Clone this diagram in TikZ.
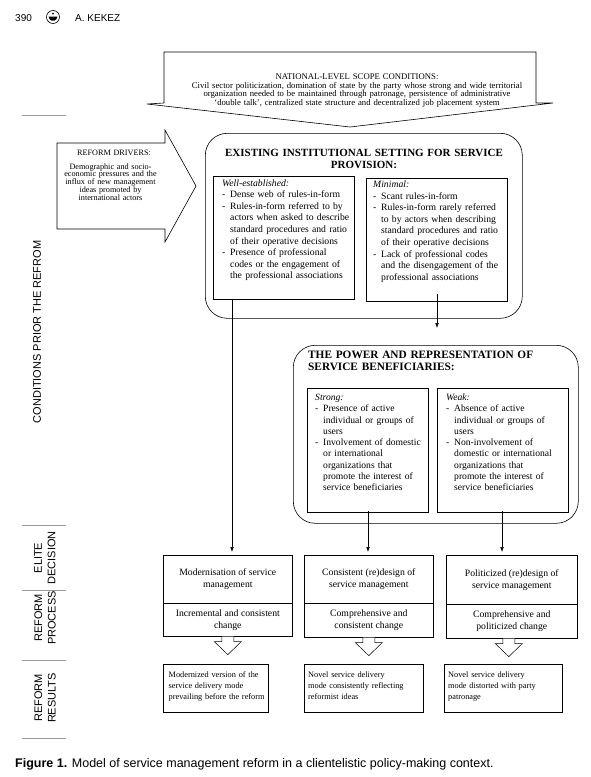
\documentclass[tikz,border=0pt]{standalone}
\usepackage{fontspec}
\setmainfont{Liberation Serif}
\setsansfont{Liberation Sans}
\usetikzlibrary{arrows.meta}
\newcommand{\fs}[2]{\fontsize{#1}{#2}\selectfont}
\newcommand{\dl}{\makebox[8pt][l]{-}}
\newcommand{\ind}{\hspace*{8pt}}
\begin{document}
\begin{tikzpicture}[x=1pt,y=-1pt,
  box/.style={draw, line width=0.6pt, anchor=north west, inner sep=0pt},
  cell/.style={box, align=center, font=\fs{9.7}{11.8}},
  rbox/.style={draw, line width=0.6pt, rounded corners=22pt, anchor=north west, inner sep=0pt},
  tl/.style={anchor=base west, inner sep=0pt, align=left, text width=170pt},
  tc/.style={anchor=base, inner sep=0pt, align=center},
  main/.style={font=\fs{9.7}{11.6}},
  arr/.style={-{Latex[length=5pt,width=3.6pt]}, line width=0.5pt},
  hollow/.style={draw, fill=white, line width=0.5pt},
  lab/.style={font=\sffamily\fs{11}{13.5}, rotate=90, align=center, inner sep=0pt},
  grule/.style={draw=black!40, line width=0.6pt},
  arrowshape/.style={draw, line width=0.6pt, fill=white},
  restext/.style={tl, font=\fs{8.3}{11}}
]
\fill[white] (0,0) rectangle (590,777);
\useasboundingbox (0,0) rectangle (590,777);

% header
\node[anchor=base west, inner sep=0pt, font=\sffamily\fs{10}{12}] (pg) at (15,21) {390};
\node[circle, draw, line width=0.6pt, minimum size=13pt, inner sep=0pt] (logo) at (53,17) {};
\fill (48.5,16.5) -- (57.5,16.5) -- (56.3,19.3) -- (54.5,20.6) -- (51.5,20.6) -- (49.7,19.3) -- cycle;
\fill (53,13.6) circle (1.1pt);
\node[anchor=base west, inner sep=0pt, font=\sffamily\fs{10}{12}] (auth) at (75,21) {A.\ KEKEZ};

% gray rules
\draw[grule] (22,115) -- (66,115);
\draw[grule] (22,525) -- (66,525);
\draw[grule] (22,590) -- (66,590);
\draw[grule] (22,660) -- (66,660);
\draw[grule] (22,738) -- (66,738);

% left labels
\node[lab] (lcond) at (37,332) {CONDITIONS PRIOR THE REFROM};
\node[lab] (lelite) at (45,558) {ELITE\\DECISION};
\node[lab] (lproc) at (45,618) {REFORM\\PROCESS};
\node[lab] (lres) at (45,698) {REFORM\\RESULTS};

% national scope arrow
\draw[arrowshape] (164,52) -- (536,52) -- (536,103) -- (553,103) -- (350,127) -- (147,104) -- (164,103) -- cycle;
\node[tc, text width=370pt, font=\fs{8.7}{8.8}] (natt) at (357,79) {NATIONAL-LEVEL SCOPE CONDITIONS:\hspace*{28pt}\\[0.3pt]
Civil sector politicization, domination of state by the party whose strong and wide territorial\\
organization needed to be maintained through patronage, persistence of administrative\\
`double talk', centralized state structure and decentralized job placement system};

% reform drivers arrow
\draw[arrowshape] (57,143) -- (165,143) -- (165,130) -- (196,186) -- (165,242) -- (165,229) -- (57,229) -- cycle;
\node[tc, text width=110pt, font=\fs{8.2}{7.9}] (reft) at (110.5,155.5) {\hspace*{7pt}REFORM DRIVERS:\\[5.6pt]
Demographic and socio-\\ economic pressures and the\\ influx of new management\\ ideas promoted by\\ international actors};

% existing institutional setting
\node[rbox, minimum width=317pt, minimum height=185pt] (exist) at (205,133) {};
\node[tc, text width=310pt, font=\bfseries\fs{11}{12}] (ext) at (364,156.5) {EXISTING INSTITUTIONAL SETTING FOR SERVICE\\PROVISION:};
\node[box, minimum width=141pt, minimum height=123pt] (exl) at (213,176) {};
\node[tl, main] (exlt) at (222,186) {\textit{Well-established:}\\
\dl Dense web of rules-in-form\\
\dl Rules-in-form referred to by\\
\ind actors when asked to describe\\
\ind standard procedures and ratio\\
\ind of their operative decisions\\
\dl Presence of professional\\
\ind codes or the engagement of\\
\ind the professional associations};
\node[box, minimum width=141pt, minimum height=123pt] (exr) at (366,178) {};
\node[tl, main] (exrt) at (373,187.5) {\textit{Minimal:}\\
\dl Scant rules-in-form\\
\dl Rules-in-form rarely referred\\
\ind to by actors when describing\\
\ind standard procedures and ratio\\
\ind of their operative decisions\\
\dl Lack of professional codes\\
\ind and the disengagement of the\\
\ind professional associations};

% power and representation
\node[rbox, minimum width=285pt, minimum height=178pt] (pw) at (293,345) {};
\node[tl, text width=270pt, font=\bfseries\fs{11.3}{12}] (pwt) at (308,358.5) {THE POWER AND REPRESENTATION OF\\SERVICE BENEFICIARIES:};
\node[box, minimum width=121pt, minimum height=124pt] (pwl) at (307,388) {};
\node[tl, font=\fs{9.6}{11.25}] (pwlt) at (315,400.5) {\textit{Strong:}\\
\dl Presence of active\\
\ind individual or groups of\\
\ind users\\
\dl Involvement of domestic\\
\ind or international\\
\ind organizations that\\
\ind promote the interest of\\
\ind service beneficiaries};
\node[box, minimum width=131pt, minimum height=124pt] (pwr) at (437,388) {};
\node[tl, font=\fs{9.6}{11.25}] (pwrt) at (446,400.5) {\textit{Weak:}\\
\dl Absence of active\\
\ind individual or groups of\\
\ind users\\
\dl Non-involvement of\\
\ind domestic or international\\
\ind organizations that\\
\ind promote the interest of\\
\ind service beneficiaries};

% elite decision / reform process cells
\node[cell, minimum width=129pt, minimum height=48pt] (m1) at (163,555) {Modernisation of service\\management};
\node[cell, minimum width=129pt, minimum height=33pt] (p1) at (163,603) {Incremental and consistent\\change};
\node[cell, minimum width=129pt, minimum height=48pt] (m2) at (304,555) {Consistent (re)design of\\service management};
\node[cell, minimum width=129pt, minimum height=34pt] (p2) at (304,603) {Comprehensive and\\consistent change};
\node[cell, minimum width=131pt, minimum height=49pt] (m3) at (446,555) {Politicized (re)design of\\service management};
\node[cell, minimum width=131pt, minimum height=34pt] (p3) at (446,604) {Comprehensive and\\politicized change};

% results
\node[box, minimum width=105pt, minimum height=48pt] (r1) at (163,664) {};
\node[restext] (r1t) at (168.5,677.5) {Modernized version of the\\service delivery mode\\prevailing before the reform};
\node[box, minimum width=119pt, minimum height=48pt] (r2) at (304,664) {};
\node[restext] (r2t) at (308,677.5) {Novel service delivery\\mode consistently reflecting\\reformist ideas};
\node[box, minimum width=118pt, minimum height=48pt] (r3) at (444,664) {};
\node[restext] (r3t) at (448,677.5) {Novel service delivery\\mode distorted with party\\patronage};

% connectors
\coordinate (c1) at ([xshift=19pt]exl.south west);
\draw[arr, shorten >=3pt] (c1) -- (c1 |- m1.north);
\coordinate (c2) at ([xshift=71pt,yshift=8pt]exr.south west);
\draw[arr, shorten >=17pt] (c2) -- (c2 |- pw.north);
\coordinate (c3) at ([xshift=61pt,yshift=2pt]pwl.south west);
\draw[arr, shorten >=3pt] (c3) -- (c3 |- m2.north);
\coordinate (c4) at ([xshift=65pt,yshift=2pt]pwr.south west);
\draw[arr, shorten >=3pt] (c4) -- (c4 |- m3.north);

% hollow arrows
\draw[hollow] ([xshift=-6pt]p1.south) -- ++(0,5) -- ++(-7.5,0) -- ++(13.5,13) -- ++(13.5,-13) -- ++(-7.5,0) -- ++(0,-5);
\draw[hollow] ([xshift=-6pt]p2.south) -- ++(0,5) -- ++(-7.5,0) -- ++(13.5,13) -- ++(13.5,-13) -- ++(-7.5,0) -- ++(0,-5);
\draw[hollow] ([xshift=-9pt]p3.south) -- ++(0,5) -- ++(-7.5,0) -- ++(13.5,13) -- ++(13.5,-13) -- ++(-7.5,0) -- ++(0,-5);

% caption
\node[anchor=base west, inner sep=0pt, font=\sffamily\fs{12.5}{14}] (cap) at (15,767) {\textbf{Figure 1.} Model of service management reform in a clientelistic policy-making context.};
\end{tikzpicture}
\end{document}
